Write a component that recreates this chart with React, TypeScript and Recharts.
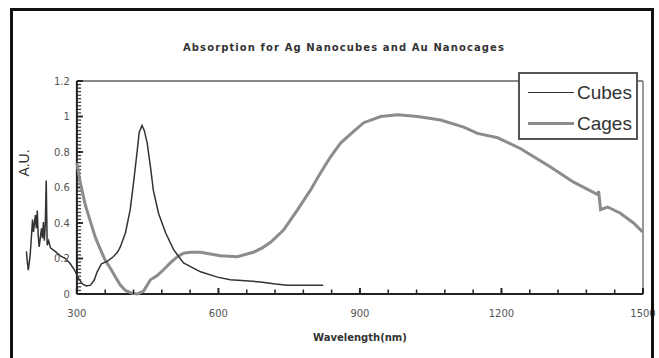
import { LineChart, Line, XAxis, YAxis, ReferenceLine, Legend } from "recharts";

// wavelength (nm) and absorbance
const cubesNm = [
  193, 195, 197, 201, 206, 208, 212, 214, 216, 218, 220, 225, 227, 229, 231, 233, 235, 237, 240, 244, 254, 265,
  276, 286, 295, 303, 312, 320, 329, 337, 343, 352, 365, 377, 386, 392, 403, 413, 420, 428, 432, 438, 443, 449,
  456, 462, 473, 488, 505, 526, 562, 598, 625, 657, 689, 721, 746, 822,
];
const cubesAbs = [
  0.24, 0.18, 0.135, 0.22, 0.42, 0.35, 0.445, 0.37, 0.47, 0.33, 0.265, 0.37, 0.315, 0.405, 0.3, 0.39, 0.64, 0.275,
  0.3, 0.26, 0.24, 0.215, 0.2, 0.17, 0.135, 0.09, 0.055, 0.045, 0.05, 0.08, 0.125, 0.17, 0.185, 0.21, 0.235, 0.265,
  0.345, 0.475, 0.625, 0.81, 0.91, 0.95, 0.92, 0.85, 0.715, 0.585, 0.455, 0.345, 0.25, 0.175, 0.125, 0.095, 0.08,
  0.075, 0.068, 0.056, 0.05, 0.05,
];
const cagesNm = [
  300, 307, 318, 329, 339, 350, 360, 371, 382, 392, 403, 416, 428, 441, 456, 471, 483, 498, 513, 526, 541, 562,
  604, 640, 674, 693, 710, 738, 768, 795, 816, 837, 859, 886, 908, 944, 980, 1022, 1071, 1120, 1149, 1192, 1240,
  1304, 1353, 1404, 1406, 1410, 1425, 1452, 1480, 1499,
];
const cagesAbs = [
  0.74, 0.63, 0.5, 0.405, 0.32, 0.25, 0.19, 0.145, 0.095, 0.05, 0.02, 0.005, 0, 0.015, 0.08, 0.105, 0.135, 0.175,
  0.21, 0.23, 0.235, 0.235, 0.215, 0.21, 0.235, 0.26, 0.29, 0.36, 0.475, 0.585, 0.68, 0.77, 0.85, 0.915, 0.965, 1.0,
  1.01, 1.0, 0.98, 0.94, 0.905, 0.88, 0.82, 0.715, 0.63, 0.56, 0.58, 0.475, 0.49, 0.455, 0.4, 0.35,
];

const xMajor = [300, 600, 900, 1200, 1500];
const yMajor = [0, 0.2, 0.4, 0.6, 0.8, 1, 1.2];
const yLabels = ["0", "0.2", "0.4", "0.6", "0.8", "1", "1.2"];

const cubes = cubesNm.map((nm, i) => ({ nm, abs: cubesAbs[i] }));
const cages = cagesNm.map((nm, i) => ({ nm, abs: cagesAbs[i] }));

// minor ticks: every 60 nm on x, every 0.02 on y
const xTicks: number[] = [];
for (let v = 300; v <= 1500; v += 60) xTicks.push(v);
const yMinor: number[] = [];
for (let i = 0; i <= 60; i++) yMinor.push(Math.round(i * 2) / 100);

const font = "'DejaVu Sans', sans-serif";

function XTick(props: any) {
  const { x, y, payload } = props;
  const major = xMajor.includes(payload.value);
  return (
    <g>
      <path d={`M${x},${y}V${y - (major ? 6 : 4.5)}`} stroke="#222" strokeWidth={major ? 2 : 1.5} fill="none" />
      {major && (
        <text x={x} y={y + 23} textAnchor="middle" fontSize={10} fill="#555" fontFamily={font}>
          {payload.value}
        </text>
      )}
    </g>
  );
}

function LegendBox(props: any) {
  const items = props.payload || [];
  return (
    <div
      style={{
        width: 120,
        height: 68,
        boxSizing: "border-box",
        border: "2px solid #555",
        background: "#fff",
        fontFamily: "'Liberation Sans', Arial, sans-serif",
        fontSize: 19,
        color: "#333",
        paddingTop: 3,
      }}
    >
      {items.map((it: any, i: number) => (
        <div key={it.value} style={{ display: "flex", alignItems: "center", height: 31 }}>
          <div style={{ width: 46, height: i === 0 ? 1.5 : 3, background: it.color, marginLeft: 8, marginRight: 3 }} />
          <span>{it.value}</span>
        </div>
      ))}
    </div>
  );
}

export default function App() {
  return (
    <div style={{ position: "absolute", left: 0, top: 0, width: 659, height: 358, overflow: "hidden", background: "#fff" }}>
      <LineChart width={659} height={358} data={cubes} margin={{ top: 81, right: 16, bottom: 24, left: 25 }}>
        <XAxis
          type="number"
          dataKey="nm"
          domain={[190, 1500]}
          ticks={xTicks}
          interval={0}
          height={40}
          axisLine={false}
          tickLine={false}
          tickSize={0}
          tickMargin={0}
          tick={<XTick />}
        />
        <YAxis type="number" domain={[0, 1.2]} hide />
        {/* frame */}
        <ReferenceLine segment={[{ x: 300, y: 1.2 }, { x: 1500, y: 1.2 }]} stroke="#888" strokeWidth={2} />
        <ReferenceLine segment={[{ x: 1500, y: 0 }, { x: 1500, y: 1.2 }]} stroke="#999" strokeWidth={2} />
        {/* y axis at 300 nm */}
        {yMinor.map((v) => (
          <ReferenceLine key={"m" + v} segment={[{ x: 300, y: v }, { x: 309, y: v }]} stroke="#333" strokeWidth={1.2} ifOverflow="visible" />
        ))}
        {yMajor.map((v, i) => (
          <ReferenceLine
            key={"M" + v}
            segment={[{ x: 300, y: v }, { x: 313, y: v }]}
            stroke="#222"
            strokeWidth={1.8}
            ifOverflow="visible"
            label={{ value: yLabels[i], position: "left", offset: 7, fontSize: 10, fill: "#555", fontFamily: font }}
          />
        ))}
        <ReferenceLine segment={[{ x: 300, y: 0 }, { x: 300, y: 1.2 }]} stroke="#222" strokeWidth={2} />
        <ReferenceLine
          segment={[{ x: 300, y: 0 }, { x: 1500, y: 0 }]}
          stroke="#222"
          strokeWidth={2}
          label={{ value: "Wavelength(nm)", position: "bottom", offset: 40, fontSize: 10, fontWeight: "bold", fill: "#333", fontFamily: font }}
        />
        <Line data={cages} dataKey="abs" name="Cages" stroke="#8c8c8c" strokeWidth={3} dot={false} isAnimationActive={false} />
        <Line data={cubes} dataKey="abs" name="Cubes" stroke="#333" strokeWidth={1.5} dot={false} isAnimationActive={false} />
        <Legend
          layout="vertical"
          align="center"
          verticalAlign="middle"
          content={(p: any) => <LegendBox payload={[...(p.payload || [])].reverse()} />}
          wrapperStyle={{ left: 518, top: 72, width: 120, height: 68 }}
        />
      </LineChart>
      <div
        style={{
          position: "absolute",
          left: 0,
          width: 688,
          top: 42,
          textAlign: "center",
          fontFamily: font,
          fontWeight: "bold",
          fontSize: 10,
          letterSpacing: 1.1,
          color: "#333",
        }}
      >
        Absorption for Ag Nanocubes and Au Nanocages
      </div>
      <div
        style={{
          position: "absolute",
          left: 24,
          top: 163,
          transform: "translate(-50%, -50%) rotate(-90deg)",
          fontFamily: "'Liberation Sans', Arial, sans-serif",
          fontSize: 14,
          color: "#333",
          whiteSpace: "nowrap",
        }}
      >
        A.U.
      </div>
      <div
        style={{
          position: "absolute",
          left: 10,
          top: 8,
          width: 644,
          height: 360,
          boxSizing: "border-box",
          border: "3px solid #111",
        }}
      />
    </div>
  );
}
